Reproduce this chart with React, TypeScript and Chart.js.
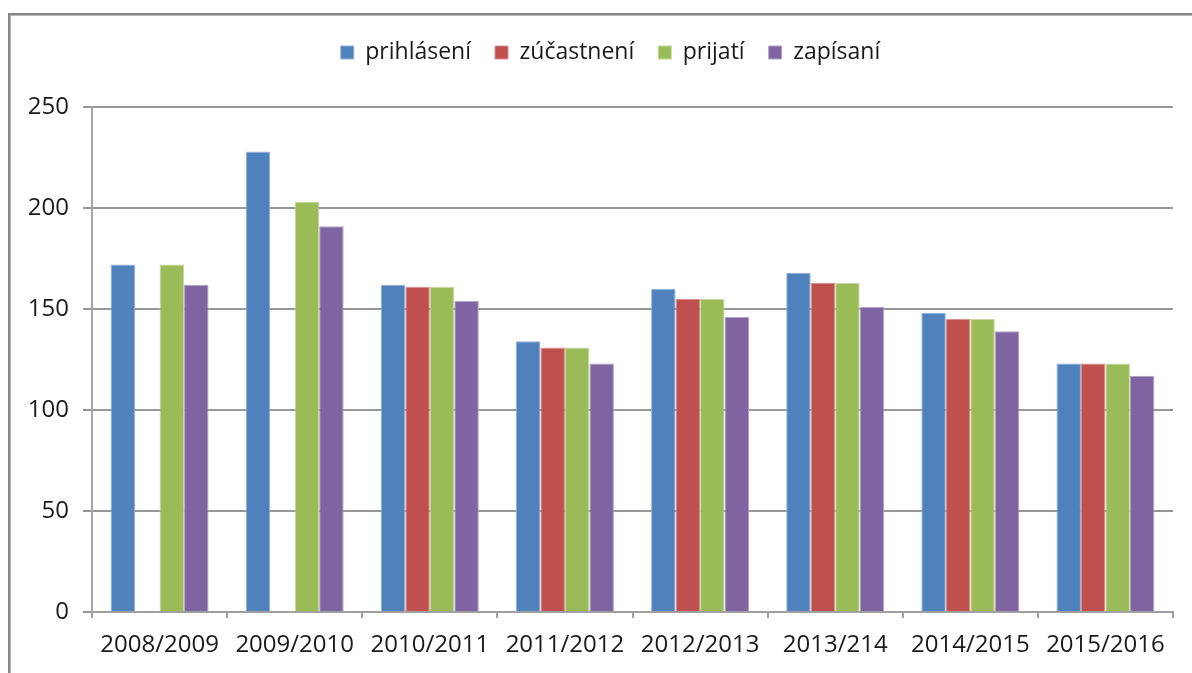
import React, { useEffect, useRef } from "react";
import { Chart, registerables } from "chart.js";

Chart.register(...registerables);

const categories = [
  "2008/2009",
  "2009/2010",
  "2010/2011",
  "2011/2012",
  "2012/2013",
  "2013/214",
  "2014/2015",
  "2015/2016",
];
const prihlaseni = [172, 228, 162, 134, 160, 168, 148, 123];
const zucastneni = [null, null, 161, 131, 155, 163, 145, 123];
const prijati = [172, 203, 161, 131, 155, 163, 145, 123];
const zapisani = [162, 191, 154, 123, 146, 151, 139, 117];
const seriesNames = ["prihlásení", "zúčastnení", "prijatí", "zapísaní"];
const yTicks = [0, 50, 100, 150, 200, 250];

const FONT = "'Open Sans', 'Liberation Sans', sans-serif";

const legendMargin = {
  id: "legendMargin",
  beforeInit(chart: any) {
    const legend = chart.legend;
    if (!legend) return;
    const origFit = legend.fit;
    legend.fit = function () {
      origFit.call(this);
      this.height += 33;
    };
    const origDraw = legend.draw;
    legend.draw = function () {
      const ctx = this.ctx;
      ctx.save();
      ctx.translate(10, 0);
      origDraw.call(this);
      ctx.restore();
    };
  },
};

export default function App() {
  const ref = useRef<HTMLCanvasElement | null>(null);

  useEffect(() => {
    if (!ref.current) return;
    const colors = ["#4F81BD", "#C0504D", "#9BBB59", "#8064A2"];
    const borders = ["#8FB0D8", "#D88E8C", "#C4DA9B", "#B2A0C8"];
    const data = [prihlaseni, zucastneni, prijati, zapisani];
    const chart = new Chart(ref.current, {
      type: "bar",
      data: {
        labels: categories,
        datasets: data.map((d, i) => ({
          label: seriesNames[i],
          data: d as any,
          backgroundColor: colors[i],
          borderColor: borders[i],
          borderWidth: 1,
          categoryPercentage: 0.725,
          barPercentage: 1,
        })),
      },
      options: {
        animation: false,
        responsive: false,
        layout: { padding: { left: 28, right: 19, top: 17, bottom: 0 } },
        plugins: {
          legend: {
            position: "top",
            labels: {
              boxWidth: 13,
              boxHeight: 13,
              padding: 24,
              color: "#1a1a1a",
              font: { family: FONT, size: 23 },
            },
          },
          tooltip: { enabled: false },
        },
        scales: {
          x: {
            afterFit: (s: any) => {
              s.height = 61;
            },
            grid: {
              display: true,
              drawOnChartArea: false,
              drawTicks: true,
              tickLength: 6,
              color: "#a0a0a0",
              lineWidth: 2,
              offset: true,
            },
            border: { display: true, color: "#a0a0a0", width: 2 },
            ticks: {
              color: "#1a1a1a",
              font: { family: FONT, size: 24 },
              padding: 13,
              maxRotation: 0,
              autoSkip: false,
            },
          },
          y: {
            min: 0,
            max: 250,
            afterFit: (s: any) => {
              s.width = 64;
            },
            afterBuildTicks: (s: any) => {
              s.ticks = yTicks.map((v) => ({ value: v }));
            },
            grid: {
              color: "#979797",
              lineWidth: 2,
              drawTicks: true,
              tickLength: 9,
            },
            border: { display: true, color: "#a6a6a6", width: 2 },
            ticks: {
              color: "#1a1a1a",
              font: { family: FONT, size: 24 },
              padding: 14,
            },
          },
        },
      },
      plugins: [legendMargin],
    });
    return () => chart.destroy();
  }, []);

  return (
    <div
      style={{
        position: "fixed",
        left: 0,
        top: 0,
        width: 1192,
        height: 673,
        overflow: "hidden",
        background: "#fff",
      }}
    >
      <div
        style={{
          position: "absolute",
          left: 8,
          top: 13,
          width: 1400,
          height: 900,
          borderTop: "2px solid #858585",
          borderLeft: "2px solid #858585",
          boxShadow: "inset 1px 1px 0 #b8b8b8",
        }}
      />
      <canvas
        ref={ref}
        width={1192}
        height={673}
        style={{ position: "absolute", left: 0, top: 0, width: 1192, height: 673 }}
      />
    </div>
  );
}
